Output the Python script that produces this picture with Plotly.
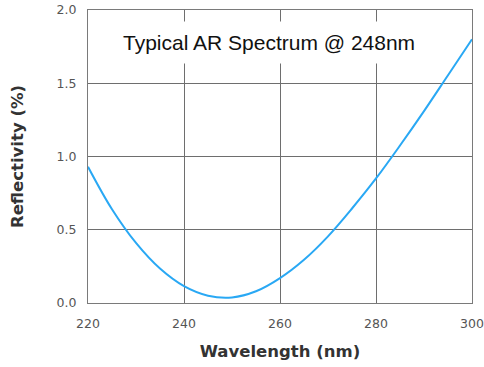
import plotly.graph_objects as go

# Reflectivity of a typical AR coating around 248 nm
wavelength_nm = [220, 225, 230, 235, 240, 245, 250, 255, 260, 265, 270, 275, 280, 285, 290, 295, 300]
reflectivity_pct = [0.93, 0.64, 0.41, 0.235, 0.115, 0.05, 0.038, 0.08, 0.17, 0.295, 0.455, 0.645, 0.85, 1.075, 1.31, 1.555, 1.80]

x_ticks = [220, 240, 260, 280, 300]
y_ticks = [0.0, 0.5, 1.0, 1.5, 2.0]

fig = go.Figure()

fig.add_trace(go.Scatter(
    x=wavelength_nm, y=reflectivity_pct,
    mode='lines',
    line=dict(color='#29a8f4', width=2, shape='spline', smoothing=1.0),
    showlegend=False,
))

# Title box sits inside the plot and hides the grid behind it
fig.add_annotation(
    x=0.471, y=0.889, xref='paper', yref='paper',
    xanchor='center', yanchor='middle',
    text='Typical AR Spectrum @ 248nm',
    showarrow=False,
    font=dict(family='Liberation Sans, Arial', size=21, color='#111'),
    bgcolor='white', borderpad=9,
)

axis_common = dict(
    showgrid=True, gridcolor='#6e6e6e', gridwidth=1,
    showline=True, linecolor='#7a7a7a', linewidth=1, mirror=True,
    zeroline=False, ticks='', automargin=False,
    ticklabeloverflow='allow',
    tickfont=dict(family='DejaVu Sans', size=12.5, color='#555'),
    title_font=dict(family='DejaVu Sans', size=16.5, color='#333'),
)

fig.update_xaxes(
    range=[220, 300], tickvals=x_ticks, ticktext=[str(v) for v in x_ticks],
    title_text='<b>Wavelength (nm)</b>', title_standoff=15,
    ticklabelstandoff=9,
    **axis_common,
)
fig.update_yaxes(
    range=[0, 2.0], tickvals=y_ticks, ticktext=[f'{v:.1f}' for v in y_ticks],
    title_text='<b>Reflectivity (%)</b>', title_standoff=28,
    ticklabelstandoff=8,
    **axis_common,
)

fig.update_layout(
    width=484, height=367,
    margin=dict(l=88, r=12, t=10, b=64),
    paper_bgcolor='white', plot_bgcolor='white',
)

# drop the page's default body margin so the figure sits at the top-left corner
fig.write_html("out.html", config={'displayModeBar': False},
               post_script="document.body.style.margin='0';")
